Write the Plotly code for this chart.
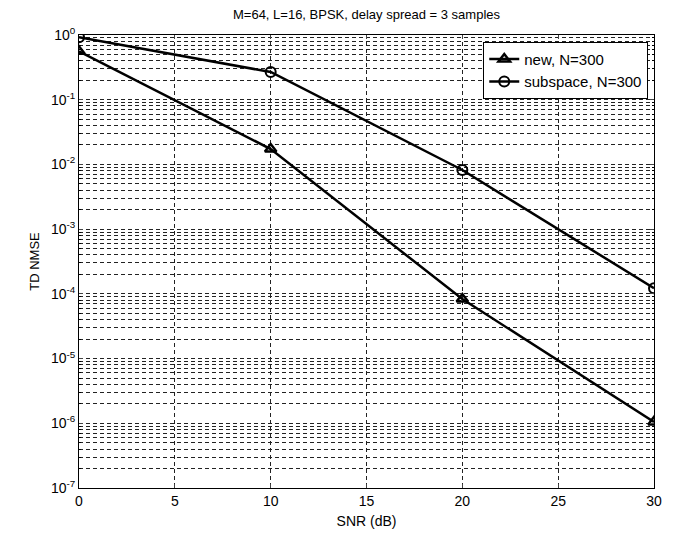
import plotly.graph_objects as go

snr = [0, 10, 20, 30]
nmse_new = [0.56, 0.0173, 8.3e-5, 1.05e-6]
nmse_sub = [0.92, 0.268, 0.0082, 1.22e-4]
x_ticks = [0, 5, 10, 15, 20, 25, 30]
decades = [-7, -6, -5, -4, -3, -2, -1, 0]

major_vals = [10.0 ** d for d in decades]
major_text = [f"10<sup>{d}</sup>" for d in decades]
minor_vals = [m * 10.0 ** d for d in decades[:-1] for m in range(2, 10)]

fig = go.Figure()
fig.add_trace(go.Scatter(x=snr, y=nmse_new, mode="lines+markers", name="new, N=300",
                         line=dict(color="black", width=2.5),
                         marker=dict(symbol="triangle-up-open", size=10, color="black",
                                     line=dict(width=2.5, color="black"))))
fig.add_trace(go.Scatter(x=snr, y=nmse_sub, mode="lines+markers", name="subspace, N=300",
                         line=dict(color="black", width=2.5),
                         marker=dict(symbol="circle-open", size=10, color="black",
                                     line=dict(width=2, color="black"))))

# page body has an 8px margin, so the figure is offset by (8, 8)
fig.update_layout(
    width=668, height=531,
    margin=dict(l=71, r=22, t=27, b=51, autoexpand=False),
    paper_bgcolor="white", plot_bgcolor="white",
    font=dict(family="Liberation Sans, Arial, sans-serif", size=12, color="black"),
    title=dict(text="M=64, L=16, BPSK, delay spread = 3 samples", x=0.5, xref="paper",
               y=0.996, yref="container", yanchor="top", pad=dict(t=0),
               font=dict(size=13), automargin=False),
    showlegend=True,
    legend=dict(x=0.99, y=0.985, xanchor="right", yanchor="top",
                bgcolor="white", bordercolor="black", borderwidth=1,
                font=dict(size=15), tracegroupgap=0),
)
fig.update_xaxes(range=[0, 30], tickvals=x_ticks, ticks="inside", ticklen=4,
                 showline=True, linecolor="black", linewidth=1, mirror="ticks",
                 showgrid=True, gridcolor="#222222", griddash="4px,3px", gridwidth=1,
                 zeroline=False, automargin=False,
                 title=dict(text="SNR (dB)", standoff=8, font=dict(size=14)),
                 tickfont=dict(size=14))
fig.update_yaxes(type="log", range=[-7, 0], tickvals=major_vals, ticktext=major_text,
                 ticks="inside", ticklen=4,
                 minor=dict(tickvals=minor_vals, ticks="inside", ticklen=2,
                            tickcolor="black", showgrid=True, gridcolor="#222222",
                            griddash="4px,3px", gridwidth=1),
                 showline=True, linecolor="black", linewidth=1, mirror="ticks",
                 showgrid=True, gridcolor="#222222", griddash="4px,3px", gridwidth=1,
                 zeroline=False, automargin=False,
                 title=dict(text="TD NMSE", standoff=8, font=dict(size=13)),
                 tickfont=dict(size=14))

fig.write_html("out.html")
